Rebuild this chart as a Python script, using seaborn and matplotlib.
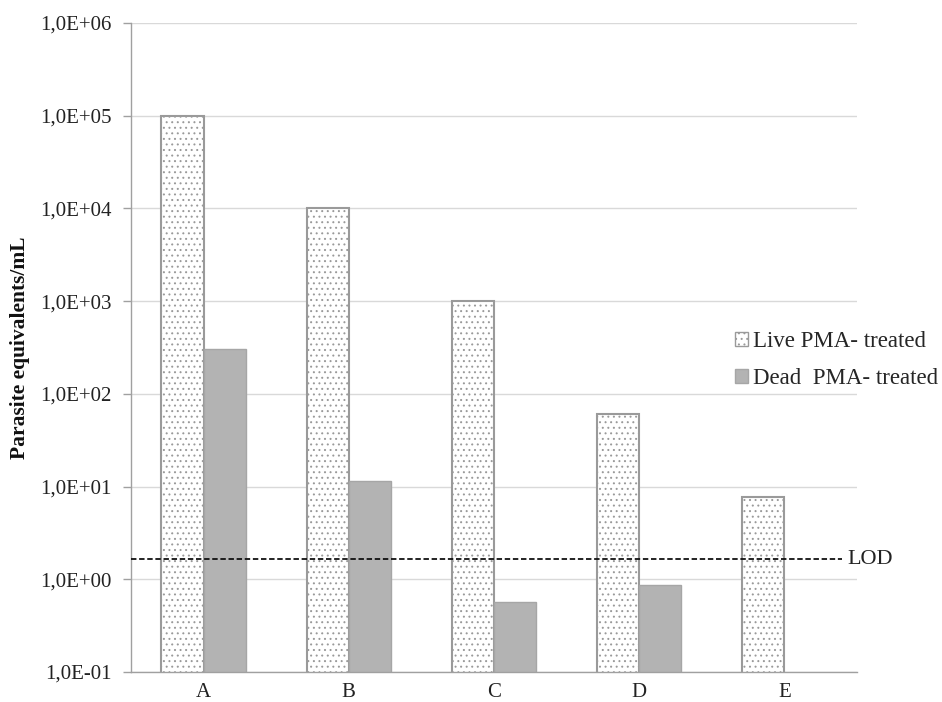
import matplotlib
matplotlib.use("Agg")
import matplotlib.pyplot as plt
import matplotlib.ticker as mticker
from matplotlib.patches import Patch
import numpy as np
import pandas as pd
import seaborn as sns

# ---- data ----
categories = ["A", "B", "C", "D", "E"]
live_values = [1.0e5, 1.0e4, 1.0e3, 60.0, 7.7]
dead_values = [305.0, 11.5, 0.57, 0.86, np.nan]
series_names = ["Live PMA- treated", "Dead  PMA- treated"]
lod_value = 1.64
ytick_values = [1e-1, 1e0, 1e1, 1e2, 1e3, 1e4, 1e5, 1e6]

df = pd.DataFrame({
    "cat": categories * 2,
    "value": live_values + dead_values,
    "series": [series_names[0]] * len(categories) + [series_names[1]] * len(categories),
})

sns.set_theme(style="white")
plt.rcParams["font.family"] = ["Liberation Serif", "DejaVu Serif"]
plt.rcParams["hatch.linewidth"] = 0.7

fig = plt.figure(figsize=(9.42, 7.02), dpi=100)
ax = fig.add_axes([131/942, 1 - 672/702, (857-131)/942, (672-23)/702])
ax.set_yscale("log")

live_edge = "#9a9a9a"
dead_fill = "#b3b3b3"
sns.barplot(data=df, x="cat", y="value", hue="series", order=categories,
            hue_order=series_names, palette=["white", dead_fill],
            width=0.58, gap=0, dodge=True, saturation=1, legend=False, ax=ax,
            errorbar=None)

for p in ax.containers[0]:
    p.set_facecolor("white")
    p.set_edgecolor(live_edge)
    p.set_hatch("...")
    p.set_linewidth(1.5)
for p in ax.containers[1]:
    p.set_facecolor(dead_fill)
    p.set_edgecolor("#a6a6a6")
    p.set_linewidth(1.0)

ax.set_ylim(1e-1, 1e6)
ax.set_xlim(-0.5, len(categories) - 0.5)
ax.yaxis.set_major_locator(mticker.FixedLocator(ytick_values))
ax.yaxis.set_minor_locator(mticker.NullLocator())

def fmt(v, pos):
    e = int(round(np.log10(v)))
    return f"1,0E{e:+03d}"
ax.yaxis.set_major_formatter(mticker.FuncFormatter(fmt))

ax.grid(axis="y", color="#d9d9d9", linewidth=1.0)
ax.set_axisbelow(True)
for s in ["top", "right"]:
    ax.spines[s].set_visible(False)
for s in ["left", "bottom"]:
    ax.spines[s].set_color("#a0a0a0")
    ax.spines[s].set_linewidth(1.0)

# x ticks at category boundaries, labels at centers
ax.set_xticks(np.arange(len(categories)))
ax.set_xticklabels(categories)
ax.set_xticks(np.arange(len(categories) + 1) - 0.5, minor=True)
ax.tick_params(axis="x", which="major", length=0, pad=8, labelsize=15, colors="#222222")
ax.tick_params(axis="x", which="minor", length=6, width=1, color="#a0a0a0", direction="out")
ax.tick_params(axis="y", which="major", length=6, width=1, color="#a0a0a0", pad=8,
               labelsize=15, labelcolor="#222222", left=True)
ax.set_xlabel("")
ax.set_ylabel("Parasite equivalents/mL", fontsize=15.5, fontweight="bold", color="#111111", labelpad=7)

# LOD line (ends a little inside the right edge of the axes)
ax.plot([-0.5, 4.4], [lod_value, lod_value], color="#111111", linestyle=(0, (3, 1.5)),
        linewidth=1.3, clip_on=False, zorder=5)
ax.text(4.435, lod_value, "LOD", fontsize=16, va="center", ha="left", color="#222222")

# legend
handles = [Patch(facecolor="white", edgecolor=live_edge, hatch="...", linewidth=1),
           Patch(facecolor=dead_fill, edgecolor="#a6a6a6", linewidth=1)]
fig.legend(handles, series_names, loc="upper left",
           bbox_to_anchor=(735/942, 1 - 331/702), frameon=False, fontsize=16.5,
           handlelength=0.55, handleheight=0.55, handletextpad=0.25, labelspacing=0.7,
           borderaxespad=0, borderpad=0)

fig.savefig("out.png", dpi=100)
